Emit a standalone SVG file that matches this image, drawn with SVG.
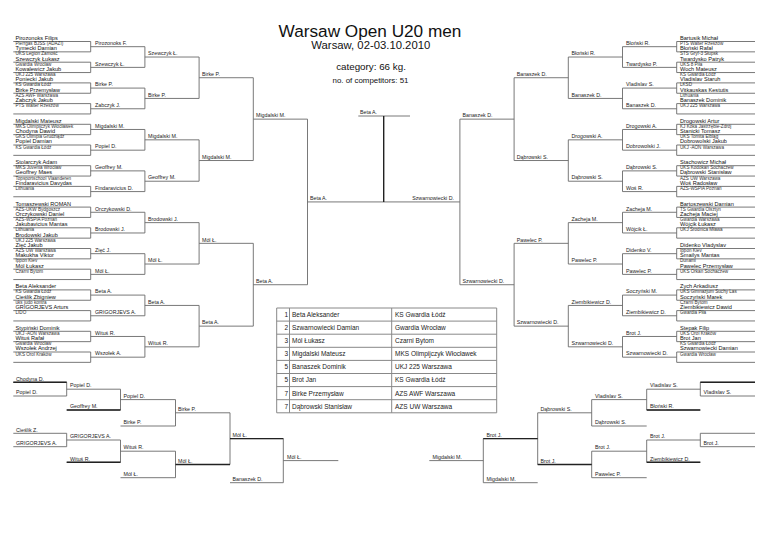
<svg xmlns="http://www.w3.org/2000/svg" width="768" height="543" viewBox="0 0 768 543">
<style>
text{font-family:"Liberation Sans",Arial,sans-serif}
.n{font-size:5.6px;fill:#111}
.c{font-size:4.6px;fill:#333}
.l{font-size:5.3px;fill:#222}
.t{font-size:6.5px;fill:#222}
.ln{fill:none;stroke:#6a6a6a;stroke-width:0.9}
.bd{fill:none;stroke:#222;stroke-width:1.4}
.tb{fill:none;stroke:#888;stroke-width:1}
</style>
<rect width="768" height="543" fill="#fff"/>
<g id="header" text-anchor="middle" fill="#111">
<text x="370" y="36.5" font-size="17.2">Warsaw Open U20 men</text>
<text x="370.8" y="49" font-size="11.3">Warsaw, 02-03.10.2010</text>
<text x="371" y="70" font-size="9.8">category: 66 kg.</text>
<text x="370.5" y="83" font-size="7.9">no. of competitors: 51</text>
</g>
<g id="connectors">
<path class="ln" d="M13.3 41.5H90.7V51.85H13.3M13.3 62.2H90.7V72.55H13.3M13.3 82.9H90.7V93.25H13.3M13.3 103.6H90.7V113.95H13.3M13.3 124.3H90.7V134.65H13.3M13.3 145H90.7V155.35H13.3M13.3 165.7H90.7V176.05H13.3M13.3 186.4H90.7V196.75H13.3M13.3 207.1H90.7V217.45H13.3M13.3 227.8H90.7V238.15H13.3M13.3 248.5H90.7V258.85H13.3M13.3 269.2H90.7V279.55H13.3M13.3 289.9H90.7V300.25H13.3M13.3 310.6H90.7V320.95H13.3M13.3 331.3H90.7V341.65H13.3M13.3 352H90.7V362.35H13.3"/>
<path class="ln" d="M90.7 46.68H144.9V67.38H90.7M90.7 88.08H144.9V108.78H90.7M90.7 129.48H144.9V150.18H90.7M90.7 170.88H144.9V191.58H90.7M90.7 212.28H144.9V232.98H90.7M90.7 253.68H144.9V274.38H90.7M90.7 295.08H144.9V315.78H90.7M90.7 336.48H144.9V357.18H90.7"/>
<path class="ln" d="M144.9 57.03H199.1V98.43H144.9M144.9 139.83H199.1V181.23H144.9M144.9 222.63H199.1V264.03H144.9M144.9 305.43H199.1V346.83H144.9M199.1 77.73H253.3V160.53H199.1M199.1 243.33H253.3V326.13H199.1M253.3 119.13H307.5V284.73H253.3M307.5 201.93H459.9"/>
<path class="ln" d="M755 41.5H676.7V51.85H755M755 62.2H676.7V72.55H755M755 82.9H676.7V93.25H755M755 103.6H676.7V113.95H755M755 124.3H676.7V134.65H755M755 145H676.7V155.35H755M755 165.7H676.7V176.05H755M755 186.4H676.7V196.75H755M755 207.1H676.7V217.45H755M755 227.8H676.7V238.15H755M755 248.5H676.7V258.85H755M755 269.2H676.7V279.55H755M755 289.9H676.7V300.25H755M755 310.6H676.7V320.95H755M755 331.3H676.7V341.65H755M755 352H676.7V362.35H755"/>
<path class="ln" d="M676.7 46.68H622.5V67.38H676.7M676.7 88.08H622.5V108.78H676.7M676.7 129.48H622.5V150.18H676.7M676.7 170.88H622.5V191.58H676.7M676.7 212.28H622.5V232.98H676.7M676.7 253.68H622.5V274.38H676.7M676.7 295.08H622.5V315.78H676.7M676.7 336.48H622.5V357.18H676.7"/>
<path class="ln" d="M622.5 57.03H568.3V98.43H622.5M622.5 139.83H568.3V181.23H622.5M622.5 222.63H568.3V264.03H622.5M622.5 305.43H568.3V346.83H622.5M568.3 77.73H514.1V160.53H568.3M568.3 243.33H514.1V326.13H568.3M514.1 119.13H459.9V284.73H514.1"/>
<path class="ln" d="M358.3 116H410"/>
<path class="bd" d="M383.7 116V201.93" stroke-width="2"/>
<path class="ln" d="M13.3 382.3H66.7V396H13.3M66.7 389.2H120.5V410H66.7M120.5 399.6H175.5V426H120.5M175.5 412.8H230V464.5H175.5M13.3 433.3H66.7V446.7H13.3M66.7 440H120.5V462.3H66.7M120.5 451.2H175.5V477.7H120.5M230 438.6H283.3V482.7H230M283.3 460.6H338.3"/>
<path class="ln" d="M755 382.3H700.3V396H755M700.3 389.2H646.7V410H700.3M646.7 399.6H591.7V426H646.7M591.7 412.8H537.7V464.5H591.7M755 433.3H700.3V446.7H755M700.3 440H646.7V462.3H700.3M646.7 451.2H591.7V477.7H646.7M537.7 438.6H483.3V482.7H537.7M483.3 460.6H429.3"/>
<path class="bd" d="M13.3 382.3H66.7M66.7 410H120.5M66.7 462.3H120.5M175.5 464.5H230M230 438.6H283.3M755 382.3H700.3M700.3 410H646.7M700.3 462.3H646.7M591.7 464.5H537.7M537.7 438.6H483.3"/>
</g>
<g id="L00"><text class="n" x="15.5" y="39.9">Pirozonoks Filips</text><text class="c" x="15.5" y="45">Pierrgas BJSS (ADAZI)</text></g>
<g id="L01"><text class="n" x="15.5" y="50.25">Tymecki Damian</text><text class="c" x="15.5" y="55.35">UKS Legion Zamość</text></g>
<g id="L02"><text class="n" x="15.5" y="60.6">Szewczyk Łukasz</text><text class="c" x="15.5" y="65.7">Gwardia Wrocław</text></g>
<g id="L03"><text class="n" x="15.5" y="70.95">Kowalewicz Jakub</text><text class="c" x="15.5" y="76.05">UKJ 225 Warszawa</text></g>
<g id="L04"><text class="n" x="15.5" y="81.3">Poniecki Jakub</text><text class="c" x="15.5" y="86.4">KS Gwardia Łódź</text></g>
<g id="L05"><text class="n" x="15.5" y="91.65">Birke Przemysław</text><text class="c" x="15.5" y="96.75">AZS AWF Warszawa</text></g>
<g id="L06"><text class="n" x="15.5" y="102">Zabczyk Jakub</text><text class="c" x="15.5" y="107.1">PTS Walter Rzeszów</text></g>
<g id="L08"><text class="n" x="15.5" y="122.7">Migdalski Mateusz</text><text class="c" x="15.5" y="127.8">MKS Olimpijczyk Włocławek</text></g>
<g id="L09"><text class="n" x="15.5" y="133.05">Chodyna Dawid</text><text class="c" x="15.5" y="138.15">GKS Olimpia Grudziądz</text></g>
<g id="L10"><text class="n" x="15.5" y="143.4">Popiel Damian</text><text class="c" x="15.5" y="148.5">KS Gwardia Łódź</text></g>
<g id="L12"><text class="n" x="15.5" y="164.1">Stolarczyk Adam</text><text class="c" x="15.5" y="169.2">MKS Juvenia Wrocław</text></g>
<g id="L13"><text class="n" x="15.5" y="174.45">Geoffrey Maes</text><text class="c" x="15.5" y="179.55">Topsportschool Vlaanderen</text></g>
<g id="L14"><text class="n" x="15.5" y="184.8">Findaravicius Davydas</text><text class="c" x="15.5" y="189.9">Lithuania</text></g>
<g id="L16"><text class="n" x="15.5" y="205.5">Tomaszewski ROMAN</text><text class="c" x="15.5" y="210.6">AZS-UKW Bydgoszcz</text></g>
<g id="L17"><text class="n" x="15.5" y="215.85">Orczykowski Daniel</text><text class="c" x="15.5" y="220.95">AZS-WSPiA Poznań</text></g>
<g id="L18"><text class="n" x="15.5" y="226.2">Jakubavicius Mantas</text><text class="c" x="15.5" y="231.3">Lithuania</text></g>
<g id="L19"><text class="n" x="15.5" y="236.55">Brodowski Jakub</text><text class="c" x="15.5" y="241.65">UKJ 225 Warszawa</text></g>
<g id="L20"><text class="n" x="15.5" y="246.9">Zięć Jakub</text><text class="c" x="15.5" y="252">AZS UW Warszawa</text></g>
<g id="L21"><text class="n" x="15.5" y="257.25">Makukha Viktor</text><text class="c" x="15.5" y="262.35">Ippon Kiev</text></g>
<g id="L22"><text class="n" x="15.5" y="267.6">Mól Łukasz</text><text class="c" x="15.5" y="272.7">Czarni Bytom</text></g>
<g id="L24"><text class="n" x="15.5" y="288.3">Beta Aleksander</text><text class="c" x="15.5" y="293.4">KS Gwardia Łódź</text></g>
<g id="L25"><text class="n" x="15.5" y="298.65">Cieślik Zbigniew</text><text class="c" x="15.5" y="303.75">uks judo kontra</text></g>
<g id="L26"><text class="n" x="15.5" y="309">GRIGORJEVS Arturs</text><text class="c" x="15.5" y="314.1">LIDO</text></g>
<g id="L28"><text class="n" x="15.5" y="329.7">Stypiński Dominik</text><text class="c" x="15.5" y="334.8">UKJ -AON Warszawa</text></g>
<g id="L29"><text class="n" x="15.5" y="340.05">Wituś Rafał</text><text class="c" x="15.5" y="345.15">Gwardia Wrocław</text></g>
<g id="L30"><text class="n" x="15.5" y="350.4">Wszołek Andrzej</text><text class="c" x="15.5" y="355.5">UKS Orol Kraków</text></g>
<g id="R00"><text class="n" x="680" y="39.9">Bartusik Michał</text><text class="c" x="680" y="45">PTS Walter Rzeszów</text></g>
<g id="R01"><text class="n" x="680" y="50.25">Błoński Rafał</text><text class="c" x="680" y="55.35">STS Gryf-3 Słupsk</text></g>
<g id="R02"><text class="n" x="680" y="60.6">Twardysko Patryk</text><text class="c" x="680" y="65.7">UKS 8 Piła</text></g>
<g id="R03"><text class="n" x="680" y="70.95">Woch Mateusz</text><text class="c" x="680" y="76.05">KS Gwardia Łódź</text></g>
<g id="R04"><text class="n" x="680" y="81.3">Vladislav Staruh</text><text class="c" x="680" y="86.4">LKSD</text></g>
<g id="R05"><text class="n" x="680" y="91.65">Vitkauskas Kestutis</text><text class="c" x="680" y="96.75">Lithuania</text></g>
<g id="R06"><text class="n" x="680" y="102">Banaszek Dominik</text><text class="c" x="680" y="107.1">UKJ 225 Warszawa</text></g>
<g id="R08"><text class="n" x="680" y="122.7">Drogowski Artur</text><text class="c" x="680" y="127.8">KJ Koka Jastrzębie-Zdrój</text></g>
<g id="R09"><text class="n" x="680" y="133.05">Stanicki Tomasz</text><text class="c" x="680" y="138.15">UKS Tomita Elbląg</text></g>
<g id="R10"><text class="n" x="680" y="143.4">Dobrowolski Jakub</text><text class="c" x="680" y="148.5">UKJ -AON Warszawa</text></g>
<g id="R12"><text class="n" x="680" y="164.1">Stachowicz Michał</text><text class="c" x="680" y="169.2">UKS Kodokan Sochaczew</text></g>
<g id="R13"><text class="n" x="680" y="174.45">Dąbrowski Stanisław</text><text class="c" x="680" y="179.55">AZS UW Warszawa</text></g>
<g id="R14"><text class="n" x="680" y="184.8">Woś Radosław</text><text class="c" x="680" y="189.9">AZS-WSPiA Poznań</text></g>
<g id="R16"><text class="n" x="680" y="205.5">Bartoszewski Damian</text><text class="c" x="680" y="210.6">TS Gwardia Olsztyn</text></g>
<g id="R17"><text class="n" x="680" y="215.85">Zacheja Maciej</text><text class="c" x="680" y="220.95">Gwardia Warszawa</text></g>
<g id="R18"><text class="n" x="680" y="226.2">Wójcik Łukasz</text><text class="c" x="680" y="231.3">UKJ Środnica Mława</text></g>
<g id="R20"><text class="n" x="680" y="246.9">Didenko  Vladyslav</text><text class="c" x="680" y="252">Ippon Kiev</text></g>
<g id="R21"><text class="n" x="680" y="257.25">Smailys Mantas</text><text class="c" x="680" y="262.35">Dunami</text></g>
<g id="R22"><text class="n" x="680" y="267.6">Pawelec Przemysław</text><text class="c" x="680" y="272.7">UKS Orkan Sochaczew</text></g>
<g id="R24"><text class="n" x="680" y="288.3">Zych Arkadiusz</text><text class="c" x="680" y="293.4">UKS Gimnazjum Suchy Las</text></g>
<g id="R25"><text class="n" x="680" y="298.65">Soczyński Marek</text><text class="c" x="680" y="303.75">Czarni Bytom</text></g>
<g id="R26"><text class="n" x="680" y="309">Ziembikiewicz Dawid</text><text class="c" x="680" y="314.1">Gwardia Piła</text></g>
<g id="R28"><text class="n" x="680" y="329.7">Stepak Filip</text><text class="c" x="680" y="334.8">UKS Orol Kraków</text></g>
<g id="R29"><text class="n" x="680" y="340.05">Brot Jan</text><text class="c" x="680" y="345.15">KS Gwardia Łódź</text></g>
<g id="R30"><text class="n" x="680" y="350.4">Szwarnowiecki Damian</text><text class="c" x="680" y="355.5">Gwardia Wrocław</text></g>
<g id="left-rounds">
<text class="l" x="95" y="44.9">Pirozonoks F.</text><text class="l" x="95" y="65.6">Szewczyk Ł.</text><text class="l" x="95" y="86.3">Birke P.</text><text class="l" x="95" y="107">Zabczyk J.</text>
<text class="l" x="95" y="127.7">Migdalski M.</text><text class="l" x="95" y="148.4">Popiel D.</text><text class="l" x="95" y="169.1">Geoffrey M.</text><text class="l" x="95" y="189.8">Findaravicius D.</text>
<text class="l" x="95" y="210.5">Orczykowski D.</text><text class="l" x="95" y="231.2">Brodowski J.</text><text class="l" x="95" y="251.9">Zięć J.</text><text class="l" x="95" y="272.6">Mól Ł.</text>
<text class="l" x="95" y="293.3">Beta A.</text><text class="l" x="95" y="314">GRIGORJEVS A.</text><text class="l" x="95" y="334.7">Wituś R.</text><text class="l" x="95" y="355.4">Wszołek A.</text>
<text class="l" x="148" y="55.2">Szewczyk Ł.</text><text class="l" x="148" y="96.6">Birke P.</text><text class="l" x="148" y="138">Migdalski M.</text><text class="l" x="148" y="179.4">Geoffrey M.</text>
<text class="l" x="148" y="220.8">Brodowski J.</text><text class="l" x="148" y="262.2">Mól Ł.</text><text class="l" x="148" y="303.6">Beta A.</text><text class="l" x="148" y="345">Wituś R.</text>
<text class="l" x="202" y="75.9">Birke P.</text><text class="l" x="202" y="158.7">Migdalski M.</text><text class="l" x="202" y="241.5">Mól Ł.</text><text class="l" x="202" y="324.3">Beta A.</text>
<text class="l" x="256" y="117.3">Migdalski M.</text><text class="l" x="256" y="282.9">Beta A.</text>
<text class="l" x="310" y="200.1">Beta A.</text>
</g>
<g id="final"><text class="l" x="360" y="114.2">Beta A.</text></g>
<g id="right-rounds">
<text class="l" x="626" y="44.9">Błoński R.</text><text class="l" x="626" y="65.6">Twardysko P.</text><text class="l" x="626" y="86.3">Vladislav S.</text><text class="l" x="626" y="107">Banaszek D.</text>
<text class="l" x="626" y="127.7">Drogowski A.</text><text class="l" x="626" y="148.4">Dobrowolski J.</text><text class="l" x="626" y="169.1">Dąbrowski S.</text><text class="l" x="626" y="189.8">Woś R.</text>
<text class="l" x="626" y="210.5">Zacheja M.</text><text class="l" x="626" y="231.2">Wójcik Ł.</text><text class="l" x="626" y="251.9">Didenko  V.</text><text class="l" x="626" y="272.6">Pawelec P.</text>
<text class="l" x="626" y="293.3">Soczyński M.</text><text class="l" x="626" y="314">Ziembikiewicz D.</text><text class="l" x="626" y="334.7">Brot J.</text><text class="l" x="626" y="355.4">Szwarnowiecki D.</text>
<text class="l" x="571.5" y="55.2">Błoński R.</text><text class="l" x="571.5" y="96.6">Banaszek D.</text><text class="l" x="571.5" y="138">Drogowski A.</text><text class="l" x="571.5" y="179.4">Dąbrowski S.</text>
<text class="l" x="571.5" y="220.8">Zacheja M.</text><text class="l" x="571.5" y="262.2">Pawelec P.</text><text class="l" x="571.5" y="303.6">Ziembikiewicz D.</text><text class="l" x="571.5" y="345">Szwarnowiecki D.</text>
<text class="l" x="516.7" y="75.9">Banaszek D.</text><text class="l" x="516.7" y="158.7">Dąbrowski S.</text><text class="l" x="516.7" y="241.5">Pawelec P.</text><text class="l" x="516.7" y="324.3">Szwarnowiecki D.</text>
<text class="l" x="462.5" y="117.3">Banaszek D.</text><text class="l" x="462.5" y="282.9">Szwarnowiecki D.</text>
<text class="l" x="454" y="200.1" text-anchor="end">Szwarnowiecki D.</text>
</g>
<g id="results-table">
<path class="tb" d="M276.7 308H496.7V412.8H276.7ZM289.5 308V412.8M391.7 308V412.8M276.7 321.1H496.7M276.7 334.2H496.7M276.7 347.3H496.7M276.7 360.4H496.7M276.7 373.5H496.7M276.7 386.6H496.7M276.7 399.7H496.7"/>
<g text-anchor="end"><text class="t" x="288" y="316.9">1</text><text class="t" x="288" y="330">2</text><text class="t" x="288" y="343.1">3</text><text class="t" x="288" y="356.2">3</text><text class="t" x="288" y="369.3">5</text><text class="t" x="288" y="382.4">5</text><text class="t" x="288" y="395.5">7</text><text class="t" x="288" y="408.6">7</text></g>
<text class="t" x="292" y="316.9">Beta Aleksander</text><text class="t" x="395" y="316.9">KS Gwardia Łódź</text>
<text class="t" x="292" y="330">Szwarnowiecki Damian</text><text class="t" x="395" y="330">Gwardia Wrocław</text>
<text class="t" x="292" y="343.1">Mól Łukasz</text><text class="t" x="395" y="343.1">Czarni Bytom</text>
<text class="t" x="292" y="356.2">Migdalski Mateusz</text><text class="t" x="395" y="356.2">MKS Olimpijczyk Włocławek</text>
<text class="t" x="292" y="369.3">Banaszek Dominik</text><text class="t" x="395" y="369.3">UKJ 225 Warszawa</text>
<text class="t" x="292" y="382.4">Brot Jan</text><text class="t" x="395" y="382.4">KS Gwardia Łódź</text>
<text class="t" x="292" y="395.5">Birke Przemysław</text><text class="t" x="395" y="395.5">AZS AWF Warszawa</text>
<text class="t" x="292" y="408.6">Dąbrowski Stanisław</text><text class="t" x="395" y="408.6">AZS UW Warszawa</text>
</g>
<g id="repechage-left">
<text class="l" x="16" y="380.5">Chodyna D.</text><text class="l" x="16" y="394.2">Popiel D.</text>
<text class="l" x="70" y="387.4">Popiel D.</text><text class="l" x="70" y="408.2">Geoffrey M.</text>
<text class="l" x="123.5" y="397.8">Popiel D.</text><text class="l" x="123.5" y="424.2">Birke P.</text>
<text class="l" x="178" y="411">Birke P.</text>
<text class="l" x="16" y="431.5">Cieślik Z.</text><text class="l" x="16" y="444.9">GRIGORJEVS A.</text>
<text class="l" x="70" y="438.2">GRIGORJEVS A.</text><text class="l" x="70" y="460.5">Wituś R.</text>
<text class="l" x="123.5" y="449.4">Wituś R.</text><text class="l" x="123.5" y="475.9">Mól Ł.</text>
<text class="l" x="178" y="462.7">Mól Ł.</text>
<text class="l" x="232.5" y="436.8">Mól Ł.</text><text class="l" x="232.5" y="480.9">Banaszek D.</text>
<text class="l" x="287" y="458.8">Mól Ł.</text>
</g>
<g id="repechage-right">
<text class="l" x="703.5" y="394.2">Vladislav S.</text>
<text class="l" x="650" y="387.4">Vladislav S.</text><text class="l" x="650" y="408.2">Błoński R.</text>
<text class="l" x="595" y="397.8">Vladislav S.</text><text class="l" x="595" y="424.2">Dąbrowski S.</text>
<text class="l" x="540.5" y="411">Dąbrowski S.</text>
<text class="l" x="703.5" y="444.9">Brot J.</text>
<text class="l" x="650" y="438.2">Brot J.</text><text class="l" x="650" y="460.5">Ziembikiewicz D.</text>
<text class="l" x="595" y="449.4">Brot J.</text><text class="l" x="595" y="475.9">Pawelec P.</text>
<text class="l" x="540.5" y="462.7">Brot J.</text>
<text class="l" x="486.5" y="436.8">Brot J.</text><text class="l" x="486.5" y="480.9">Migdalski M.</text>
<text class="l" x="432.5" y="458.8">Migdalski M.</text>
</g>
</svg>
